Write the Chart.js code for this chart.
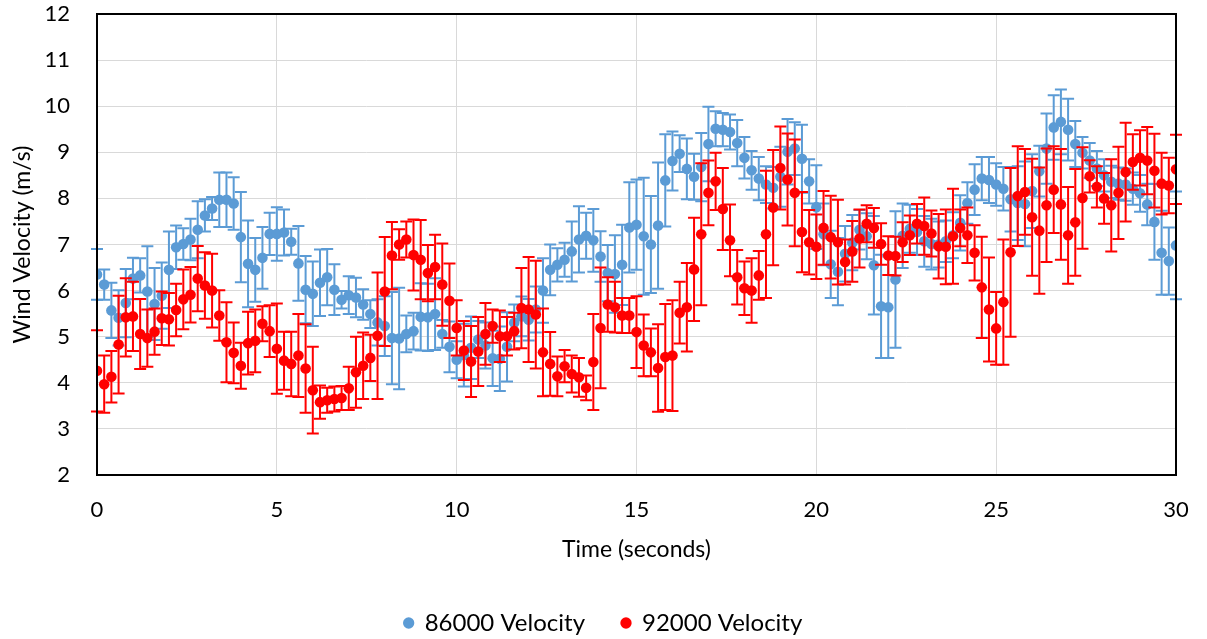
<!DOCTYPE html>
<html>
<head>
<meta charset="utf-8">
<title>Wind Velocity</title>
<script src="https://cdn.jsdelivr.net/npm/chart.js@4.4.1/dist/chart.umd.min.js"></script>
<style>
  html, body { margin: 0; padding: 0; background: #ffffff; }
  #wrap { width: 1207px; height: 639px; position: relative; }
</style>
</head>
<body>
<div id="wrap"><canvas id="chart"></canvas></div>
<script>
// Sample times (s), one reading every 0.2 s
const timeSeconds = [
  0.0, 0.2, 0.4, 0.6, 0.8, 1.0, 1.2, 1.4, 1.6, 1.8, 2.0, 2.2, 2.4, 2.6, 2.8, 3.0, 3.2, 3.4, 3.6, 3.8,
  4.0, 4.2, 4.4, 4.6, 4.8, 5.0, 5.2, 5.4, 5.6, 5.8, 6.0, 6.2, 6.4, 6.6, 6.8, 7.0, 7.2, 7.4, 7.6, 7.8,
  8.0, 8.2, 8.4, 8.6, 8.8, 9.0, 9.2, 9.4, 9.6, 9.8, 10.0, 10.2, 10.4, 10.6, 10.8, 11.0, 11.2, 11.4, 11.6, 11.8,
  12.0, 12.2, 12.4, 12.6, 12.8, 13.0, 13.2, 13.4, 13.6, 13.8, 14.0, 14.2, 14.4, 14.6, 14.8, 15.0, 15.2, 15.4, 15.6, 15.8,
  16.0, 16.2, 16.4, 16.6, 16.8, 17.0, 17.2, 17.4, 17.6, 17.8, 18.0, 18.2, 18.4, 18.6, 18.8, 19.0, 19.2, 19.4, 19.6, 19.8,
  20.0, 20.2, 20.4, 20.6, 20.8, 21.0, 21.2, 21.4, 21.6, 21.8, 22.0, 22.2, 22.4, 22.6, 22.8, 23.0, 23.2, 23.4, 23.6, 23.8,
  24.0, 24.2, 24.4, 24.6, 24.8, 25.0, 25.2, 25.4, 25.6, 25.8, 26.0, 26.2, 26.4, 26.6, 26.8, 27.0, 27.2, 27.4, 27.6, 27.8,
  28.0, 28.2, 28.4, 28.6, 28.8, 29.0, 29.2, 29.4, 29.6, 29.8, 30.0
];

// Mean wind velocity (m/s), 86000 run
const velocity86000 = [
  6.35, 6.13, 5.57, 5.41, 5.73, 6.26, 6.33, 5.98, 5.71, 5.89, 6.45, 6.94, 7.01, 7.11, 7.32, 7.63, 7.78, 7.97, 7.97, 7.89,
  7.16, 6.58, 6.45, 6.71, 7.23, 7.23, 7.26, 7.06, 6.59, 6.02, 5.93, 6.17, 6.29, 6.02, 5.80, 5.90, 5.85, 5.70, 5.49, 5.31,
  5.23, 4.97, 4.96, 5.06, 5.12, 5.43, 5.42, 5.49, 5.06, 4.78, 4.50, 4.60, 4.76, 4.94, 4.81, 4.53, 4.52, 4.78, 5.30, 5.44,
  5.37, 5.59, 6.00, 6.45, 6.56, 6.67, 6.85, 7.11, 7.19, 7.09, 6.74, 6.38, 6.36, 6.56, 7.37, 7.43, 7.18, 7.00, 7.41, 8.39,
  8.81, 8.97, 8.64, 8.47, 8.68, 9.18, 9.51, 9.49, 9.44, 9.20, 8.88, 8.61, 8.43, 8.30, 8.23, 8.47, 9.01, 9.08, 8.86, 8.37,
  7.81, 7.22, 6.57, 6.41, 6.80, 7.04, 7.32, 7.18, 6.55, 5.66, 5.64, 6.24, 7.19, 7.34, 7.27, 7.07, 7.01, 7.00, 7.07, 7.20,
  7.47, 7.90, 8.19, 8.43, 8.40, 8.30, 8.21, 7.98, 7.90, 7.88, 8.16, 8.59, 9.08, 9.54, 9.66, 9.49, 9.18, 8.99, 8.82, 8.65,
  8.50, 8.36, 8.32, 8.30, 8.21, 8.11, 7.87, 7.49, 6.82, 6.64, 6.98
];

// Error bar half-width (m/s), 86000 run
const error86000 = [
  0.55, 0.33, 0.60, 0.60, 0.74, 0.45, 0.37, 0.98, 0.78, 0.72, 0.83, 0.47, 0.34, 0.45, 0.62, 0.35, 0.25, 0.59, 0.59, 0.57,
  0.98, 0.94, 0.69, 0.67, 0.46, 0.58, 0.50, 0.28, 0.81, 0.73, 0.70, 0.72, 0.61, 0.55, 0.19, 0.41, 0.43, 0.33, 0.30, 0.50,
  0.65, 1.00, 1.10, 0.40, 0.40, 0.73, 0.73, 0.78, 0.30, 0.55, 0.40, 0.68, 0.68, 0.40, 0.50, 0.60, 0.70, 0.75, 0.40, 0.43,
  0.45, 0.50, 0.70, 0.55, 0.36, 0.37, 0.65, 0.72, 0.50, 0.68, 0.55, 0.61, 0.84, 0.87, 0.98, 0.98, 1.27, 1.05, 1.37, 1.00,
  0.64, 0.40, 0.66, 0.50, 0.74, 0.81, 0.38, 0.36, 0.38, 0.50, 0.45, 0.42, 0.47, 0.40, 0.45, 0.65, 0.71, 0.57, 0.74, 0.48,
  0.91, 0.67, 0.73, 0.73, 0.60, 0.60, 0.43, 0.50, 1.07, 1.12, 1.10, 1.48, 0.70, 0.52, 0.50, 0.55, 0.55, 0.50, 0.45, 0.50,
  0.60, 0.45, 0.55, 0.47, 0.50, 0.46, 0.47, 0.70, 0.80, 0.92, 0.80, 0.55, 0.76, 0.70, 0.70, 0.67, 0.50, 0.34, 0.38, 0.38,
  0.35, 0.35, 0.35, 0.35, 0.35, 0.40, 0.45, 0.82, 0.91, 0.73, 1.17
];

// Mean wind velocity (m/s), 92000 run
const velocity92000 = [
  4.26, 3.97, 4.13, 4.83, 5.42, 5.44, 5.06, 4.97, 5.11, 5.40, 5.38, 5.58, 5.81, 5.91, 6.26, 6.11, 6.00, 5.46, 4.88, 4.65,
  4.37, 4.86, 4.91, 5.28, 5.12, 4.74, 4.48, 4.41, 4.59, 4.31, 3.84, 3.58, 3.62, 3.65, 3.67, 3.88, 4.23, 4.37, 4.54, 5.02,
  5.98, 6.76, 7.00, 7.11, 6.77, 6.67, 6.38, 6.51, 6.13, 5.78, 5.19, 4.70, 4.46, 4.68, 5.06, 5.23, 5.01, 5.01, 5.12, 5.62,
  5.59, 5.48, 4.66, 4.41, 4.14, 4.36, 4.19, 4.12, 3.89, 4.45, 5.19, 5.70, 5.64, 5.46, 5.46, 5.10, 4.81, 4.66, 4.32, 4.56,
  4.59, 5.52, 5.64, 6.46, 7.22, 8.12, 8.37, 7.77, 7.09, 6.29, 6.05, 6.00, 6.33, 7.22, 7.80, 8.66, 8.41, 8.12, 7.27, 7.05,
  6.95, 7.36, 7.16, 7.05, 6.62, 6.85, 7.13, 7.45, 7.36, 7.01, 6.76, 6.75, 7.05, 7.20, 7.45, 7.40, 7.24, 6.96, 6.95, 7.18,
  7.36, 7.20, 6.82, 6.07, 5.59, 5.18, 5.75, 6.83, 8.05, 8.14, 7.59, 7.30, 7.85, 8.19, 7.87, 7.20, 7.48, 8.01, 8.48, 8.25,
  8.00, 7.85, 8.12, 8.57, 8.79, 8.88, 8.82, 8.60, 8.32, 8.28, 8.63
];

// Error bar half-width (m/s), 92000 run
const error92000 = [
  0.88, 0.62, 0.56, 1.06, 0.85, 0.75, 0.76, 0.62, 0.50, 0.58, 0.57, 0.57, 0.65, 0.60, 0.71, 0.72, 0.80, 0.55, 0.87, 0.66,
  0.50, 0.68, 0.68, 0.38, 0.56, 0.98, 0.63, 0.70, 0.90, 0.96, 0.94, 0.36, 0.27, 0.27, 0.26, 0.47, 0.77, 0.72, 0.50, 1.37,
  1.18, 0.73, 0.33, 0.39, 0.77, 0.86, 0.61, 0.70, 0.89, 0.81, 0.60, 0.64, 0.77, 0.75, 0.67, 0.36, 0.56, 0.42, 0.40, 0.87,
  1.14, 1.17, 0.95, 0.69, 0.43, 0.35, 0.40, 0.42, 0.27, 1.04, 1.31, 0.59, 0.55, 0.38, 0.38, 0.78, 0.67, 0.52, 0.95, 1.15,
  1.20, 0.67, 0.96, 1.12, 1.54, 0.70, 0.62, 0.89, 0.78, 0.59, 0.58, 0.70, 0.53, 1.38, 1.25, 0.90, 1.00, 1.16, 0.87, 0.70,
  0.70, 0.80, 0.90, 0.92, 0.49, 0.66, 0.63, 0.40, 0.43, 0.45, 0.42, 0.42, 0.43, 0.43, 0.43, 0.62, 0.50, 0.70, 0.81, 1.03,
  0.40, 0.60, 0.60, 1.10, 1.13, 0.79, 1.36, 1.83, 1.08, 0.93, 1.27, 1.37, 1.23, 0.94, 1.20, 1.05, 1.16, 1.10, 0.35, 0.45,
  0.55, 1.00, 1.00, 1.07, 0.60, 0.60, 0.73, 0.80, 0.67, 0.60, 0.75
];

const xTickValues = [0, 5, 10, 15, 20, 25, 30];
const yTickValues = [2, 3, 4, 5, 6, 7, 8, 9, 10, 11, 12];

const seriesNames = ['86000 Velocity', '92000 Velocity'];
const seriesColors = ['#5B9BD5', '#FF0000'];

const FONT = 'Lato, "Open Sans", sans-serif';

function toPoints(values) {
  return values.map((v, i) => ({ x: timeSeconds[i], y: v }));
}

// Vertical error bars with caps, drawn just before each dataset's markers
const errorBarPlugin = {
  id: 'errorBars',
  beforeDatasetDraw(chart, args) {
    const ds = chart.data.datasets[args.index];
    if (!ds.errors) return;
    const xs = chart.scales.x, ys = chart.scales.y;
    const ctx = chart.ctx;
    const cap = 6;
    ctx.save();
    ctx.strokeStyle = ds.errorColor;
    ctx.lineWidth = 2;
    ds.data.forEach((p, i) => {
      const e = ds.errors[i];
      const px = xs.getPixelForValue(p.x);
      const top = ys.getPixelForValue(p.y + e);
      const bot = ys.getPixelForValue(p.y - e);
      ctx.beginPath();
      ctx.moveTo(px, top); ctx.lineTo(px, bot);
      ctx.moveTo(px - cap, top); ctx.lineTo(px + cap, top);
      ctx.moveTo(px - cap, bot); ctx.lineTo(px + cap, bot);
      ctx.stroke();
    });
    ctx.restore();
  }
};

// Black frame around the plot area
const framePlugin = {
  id: 'plotFrame',
  afterDatasetsDraw(chart) {
    const a = chart.chartArea, ctx = chart.ctx;
    ctx.save();
    ctx.strokeStyle = '#000000';
    ctx.lineWidth = 2;
    ctx.strokeRect(a.left, a.top, a.right - a.left, a.bottom - a.top);
    ctx.restore();
  }
};

new Chart(document.getElementById('chart'), {
  type: 'scatter',
  data: {
    datasets: [
      {
        label: seriesNames[0],
        data: toPoints(velocity86000),
        errors: error86000,
        errorColor: seriesColors[0],
        backgroundColor: seriesColors[0],
        borderColor: seriesColors[0],
        borderWidth: 0,
        pointRadius: 5.3,
        pointHoverRadius: 5.3,
        order: 2
      },
      {
        label: seriesNames[1],
        data: toPoints(velocity92000),
        errors: error92000,
        errorColor: seriesColors[1],
        backgroundColor: seriesColors[1],
        borderColor: seriesColors[1],
        borderWidth: 0,
        pointRadius: 5.3,
        pointHoverRadius: 5.3,
        order: 1
      }
    ]
  },
  options: {
    responsive: true,
    maintainAspectRatio: false,
    animation: false,
    events: [],
    layout: { padding: { left: 0, right: 0, top: 14, bottom: -6 } },
    plugins: {
      tooltip: { enabled: false },
      legend: {
        display: true,
        position: 'bottom',
        labels: {
          usePointStyle: true,
          pointStyle: 'circle',
          boxWidth: 8,
          boxHeight: 8,
          padding: 37,
          color: '#000000',
          font: { family: FONT, size: 24 },
          sort: (a, b) => a.datasetIndex - b.datasetIndex
        }
      }
    },
    scales: {
      x: {
        type: 'linear',
        min: 0,
        max: 30,
        afterBuildTicks: (s) => { s.ticks = xTickValues.map(v => ({ value: v })); },
        afterFit: (s) => { s.height = 99; s.paddingLeft = 0; s.paddingRight = 31; },
        grid: { color: '#D9D9D9', lineWidth: 1, drawTicks: false },
        border: { display: false },
        ticks: { color: '#000000', padding: 22, maxRotation: 0, font: { family: FONT, size: 22 } },
        title: {
          display: true,
          text: 'Time (seconds)',
          color: '#000000',
          font: { family: FONT, size: 23 },
          padding: { top: 0, bottom: 11 }
        }
      },
      y: {
        type: 'linear',
        min: 2,
        max: 12,
        afterBuildTicks: (s) => { s.ticks = yTickValues.map(v => ({ value: v })); },
        afterFit: (s) => { s.width = 97; s.paddingTop = 0; s.paddingBottom = 0; },
        grid: { color: '#D9D9D9', lineWidth: 1, drawTicks: false },
        border: { display: false },
        ticks: { color: '#000000', padding: 27, font: { family: FONT, size: 22 } },
        title: {
          display: true,
          text: 'Wind Velocity (m/s)',
          color: '#000000',
          font: { family: FONT, size: 23 },
          padding: { top: 9, bottom: 0 }
        }
      }
    }
  },
  plugins: [errorBarPlugin, framePlugin]
});
</script>
</body>
</html>
